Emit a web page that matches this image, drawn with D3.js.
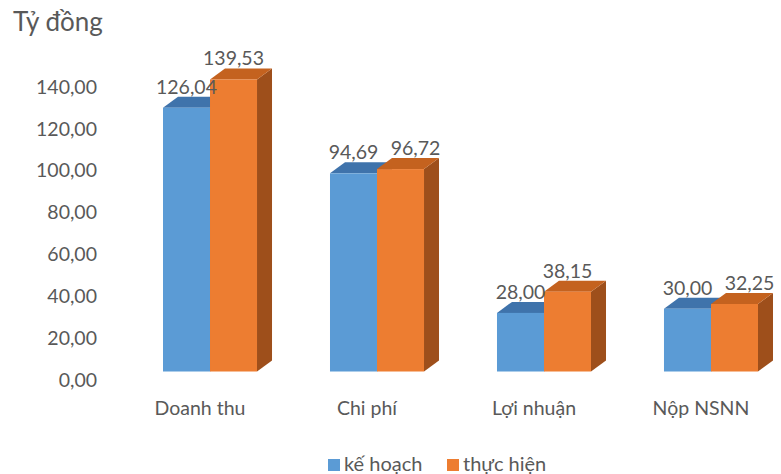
<!DOCTYPE html>
<html>
<head>
<meta charset="utf-8">
<script src="https://cdn.jsdelivr.net/npm/d3@7"></script>
<style>
  html, body { margin: 0; padding: 0; background: #ffffff; }
  svg { display: block; font-family: Lato, "Open Sans", sans-serif; }
</style>
</head>
<body>
<svg id="chart" width="781" height="474"></svg>
<script>
// ---- data ----
const categories = ["Doanh thu", "Chi phí", "Lợi nhuận", "Nộp NSNN"];
const seriesNames = ["kế hoạch", "thực hiện"];
const keHoach = [126.04, 94.69, 28.00, 30.00];
const thucHien = [139.53, 96.72, 38.15, 32.25];
const yTicks = [0, 20, 40, 60, 80, 100, 120, 140];
const titleText = "Tỷ đồng";

// ---- styles ----
const colors = {
  "kế hoạch": { front: "#5b9bd5", top: "#3f73ab", side: "#3c6c9e" },
  "thực hiện": { front: "#ed7d31", top: "#c4621f", side: "#9e4f1b" }
};
const depth = { dx: 15, dy: -11 };
const textColor = "#595959";

const locale = d3.formatLocale({ decimal: ",", thousands: ".", grouping: [3], currency: ["", ""] });
const fmt = locale.format(".2f");

const svg = d3.select("#chart");

const y = d3.scaleLinear().domain([0, 140]).range([371.5, 78.5]);
const x0 = d3.scaleBand().domain(categories).range([163, 758]).paddingInner(0.437).paddingOuter(0);
const x1 = d3.scaleBand().domain(seriesNames).range([0, x0.bandwidth()]).padding(0);

const rows = categories.map((c, i) => ({ cat: c, values: [
  { s: seriesNames[0], v: keHoach[i] },
  { s: seriesNames[1], v: thucHien[i] }
]}));

// title
svg.append("text")
  .attr("x", 13).attr("y", 31)
  .attr("font-size", 26)
  .attr("fill", textColor)
  .text(titleText);

// y axis (labels only)
const yAxis = d3.axisLeft(y).tickValues(yTicks).tickFormat(fmt).tickSize(0).tickPadding(0);
const gy = svg.append("g").attr("transform", "translate(97,8.5)").call(yAxis);
gy.select(".domain").remove();
gy.selectAll("text").attr("font-size", 19.5).attr("fill", textColor).attr("font-family", "Lato, 'Open Sans', sans-serif");

// bars
const groups = svg.append("g").selectAll("g.grp").data(rows).join("g")
  .attr("class", "grp")
  .attr("transform", d => `translate(${x0(d.cat)},0)`);

groups.each(function(d) {
  const g = d3.select(this);
  d.values.forEach(b => {
    const xl = x1(b.s), w = x1.bandwidth();
    const yt = y(b.v), yb = y(0);
    const c = colors[b.s];
    // side face
    g.append("path")
      .attr("d", `M${xl + w},${yt} L${xl + w + depth.dx},${yt + depth.dy} L${xl + w + depth.dx},${yb + depth.dy} L${xl + w},${yb} Z`)
      .attr("fill", c.side);
    // top face
    g.append("path")
      .attr("d", `M${xl},${yt} L${xl + depth.dx},${yt + depth.dy} L${xl + w + depth.dx},${yt + depth.dy} L${xl + w},${yt} Z`)
      .attr("fill", c.top);
    // front face
    g.append("rect")
      .attr("x", xl).attr("y", yt)
      .attr("width", w).attr("height", yb - yt)
      .attr("fill", c.front);
  });
});

// value labels with simple overlap avoidance
const labelLayer = svg.append("g");
rows.forEach(d => {
  const texts = d.values.map(b => {
    const cx = x0(d.cat) + x1(b.s) + x1.bandwidth() / 2;
    const t = labelLayer.append("text")
      .attr("x", cx).attr("y", y(b.v) - 14)
      .attr("text-anchor", "middle")
      .attr("font-size", 19.5)
      .attr("fill", textColor)
      .text(fmt(b.v));
    return { t, cx, yy: y(b.v) - 14, w: t.node().getComputedTextLength() };
  });
  const [a, b] = texts;
  if (Math.abs(a.yy - b.yy) < 18) {
    b.cx += 15;
    const need = a.w / 2 + b.w / 2 + 10;
    const have = b.cx - a.cx;
    if (have < need) a.cx -= (need - have);
    a.t.attr("x", a.cx);
    b.t.attr("x", b.cx);
  }
});

// category labels
svg.append("g").selectAll("text").data(categories).join("text")
  .attr("x", d => x0(d) + x0.bandwidth() / 2 - 10)
  .attr("y", 415)
  .attr("text-anchor", "middle")
  .attr("font-size", 19.5)
  .attr("fill", textColor)
  .text(d => d);

// legend
const legendX = [328, 447];
const leg = svg.append("g").selectAll("g").data(seriesNames).join("g")
  .attr("transform", (d, i) => `translate(${legendX[i]},0)`);
leg.append("rect").attr("x", 0).attr("y", 459).attr("width", 12).attr("height", 12)
  .attr("fill", d => colors[d].front);
leg.append("text").attr("x", 16).attr("y", 471)
  .attr("font-size", 20)
  .attr("fill", textColor)
  .text(d => d);
</script>
</body>
</html>
